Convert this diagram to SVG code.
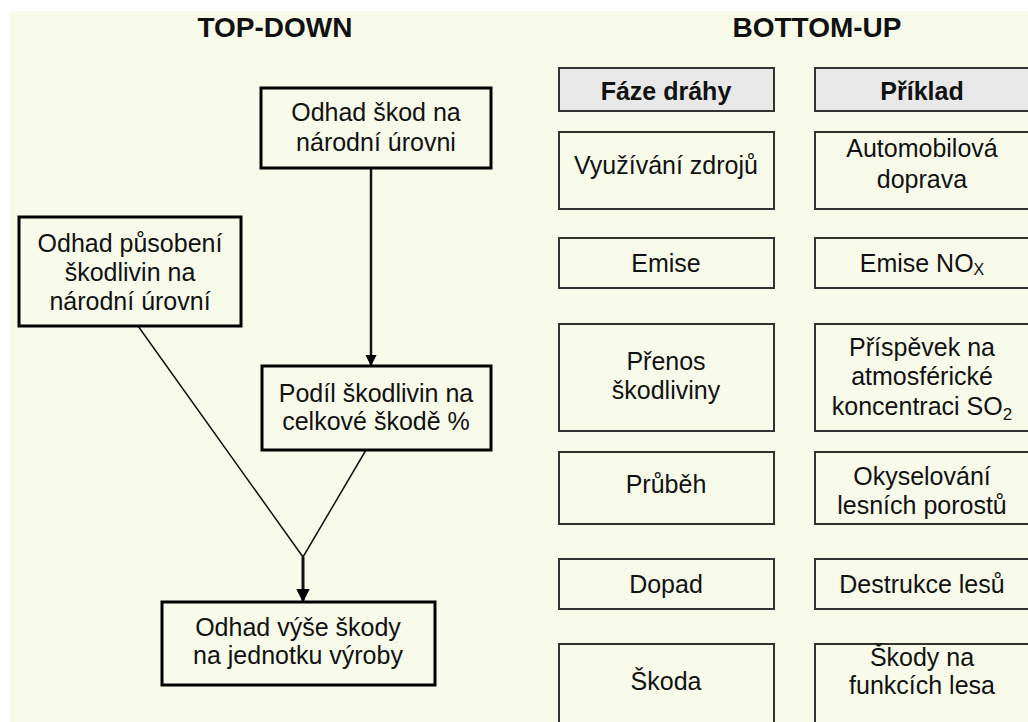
<svg xmlns="http://www.w3.org/2000/svg" width="1028" height="722" viewBox="0 0 1028 722">
<defs>
<style>
.t{font-family:"Liberation Sans",Arial,sans-serif;font-size:25px;fill:#111;text-anchor:middle}
.b{font-weight:bold}
.ttl{font-size:28px}
.nb{fill:#F8FBE9;stroke:#000;stroke-width:3}
.rb{fill:#F8FBE9;stroke:#333;stroke-width:2}
.hb{fill:#E8E8E8;stroke:#333;stroke-width:2}
.ln{stroke:#111;fill:none}
</style>
<marker id="ah" viewBox="0 0 10 10" refX="9" refY="5" markerWidth="4.5" markerHeight="4.5" orient="auto" markerUnits="strokeWidth">
<path d="M0,0 L10,5 L0,10 z" fill="#000"/>
</marker>
</defs>
<rect x="0" y="0" width="1028" height="722" fill="#fff"/>
<rect x="10" y="11" width="1018" height="711" fill="#F8FBE9"/>
<text class="t b ttl" x="275" y="37">TOP-DOWN</text>
<text class="t b ttl" x="817" y="37">BOTTOM-UP</text>
<g id="connectors">
<line class="ln" x1="371" y1="168" x2="371" y2="365" stroke-width="2.5" marker-end="url(#ah)"/>
<polyline class="ln" points="138,326 303,557 366,450" stroke-width="1.5"/>
<line class="ln" x1="303" y1="557" x2="303" y2="601" stroke-width="3" marker-end="url(#ah)"/>
</g>
<g id="n1"><rect class="nb" x="261" y="88" width="230" height="80"/>
<text class="t" x="376" y="121">Odhad škod na</text><text class="t" x="376" y="151">národní úrovni</text></g>
<g id="n2"><rect class="nb" x="19" y="217" width="222" height="109"/>
<text class="t" x="130" y="252">Odhad působení</text><text class="t" x="130" y="281">škodlivin na</text><text class="t" x="130" y="310">národní úrovní</text></g>
<g id="n3"><rect class="nb" x="262" y="366" width="229" height="84"/>
<text class="t" x="376" y="402">Podíl škodlivin na</text><text class="t" x="376" y="430">celkové škodě %</text></g>
<g id="n4"><rect class="nb" x="162" y="602" width="273" height="83"/>
<text class="t" x="298" y="636">Odhad výše škody</text><text class="t" x="298" y="664">na jednotku výroby</text></g>
<g id="h1"><rect class="hb" x="559" y="68" width="215" height="43"/><text class="t b" x="666" y="100">Fáze dráhy</text></g>
<g id="h2"><rect class="hb" x="815" y="68" width="216" height="43"/><text class="t b" x="922" y="100">Příklad</text></g>
<g id="f1"><rect class="rb" x="559" y="132" width="215" height="77"/><text class="t" x="666" y="174">Využívání zdrojů</text></g>
<g id="p1"><rect class="rb" x="815" y="132" width="216" height="77"/><text class="t" x="922" y="157">Automobilová</text><text class="t" x="922" y="188">doprava</text></g>
<g id="f2"><rect class="rb" x="559" y="238" width="215" height="50"/><text class="t" x="666" y="272">Emise</text></g>
<g id="p2"><rect class="rb" x="815" y="238" width="216" height="50"/><text class="t" x="922" y="272">Emise NO<tspan font-size="16" dy="3">X</tspan></text></g>
<g id="f3"><rect class="rb" x="559" y="324" width="215" height="107"/><text class="t" x="666" y="370">Přenos</text><text class="t" x="666" y="399">škodliviny</text></g>
<g id="p3"><rect class="rb" x="815" y="324" width="216" height="107"/><text class="t" x="922" y="356">Příspěvek na</text><text class="t" x="922" y="385">atmosférické</text><text class="t" x="922" y="415">koncentraci SO<tspan font-size="17" dy="5">2</tspan></text></g>
<g id="f4"><rect class="rb" x="559" y="452" width="215" height="72"/><text class="t" x="666" y="493">Průběh</text></g>
<g id="p4"><rect class="rb" x="815" y="452" width="216" height="72"/><text class="t" x="922" y="485">Okyselování</text><text class="t" x="922" y="514">lesních porostů</text></g>
<g id="f5"><rect class="rb" x="559" y="559" width="215" height="50"/><text class="t" x="666" y="593">Dopad</text></g>
<g id="p5"><rect class="rb" x="815" y="559" width="216" height="50"/><text class="t" x="922" y="593">Destrukce lesů</text></g>
<g id="f6"><rect class="rb" x="559" y="644" width="215" height="84"/><text class="t" x="666" y="690">Škoda</text></g>
<g id="p6"><rect class="rb" x="815" y="644" width="216" height="84"/><text class="t" x="922" y="666">Škody na</text><text class="t" x="922" y="694">funkcích lesa</text></g>
</svg>
